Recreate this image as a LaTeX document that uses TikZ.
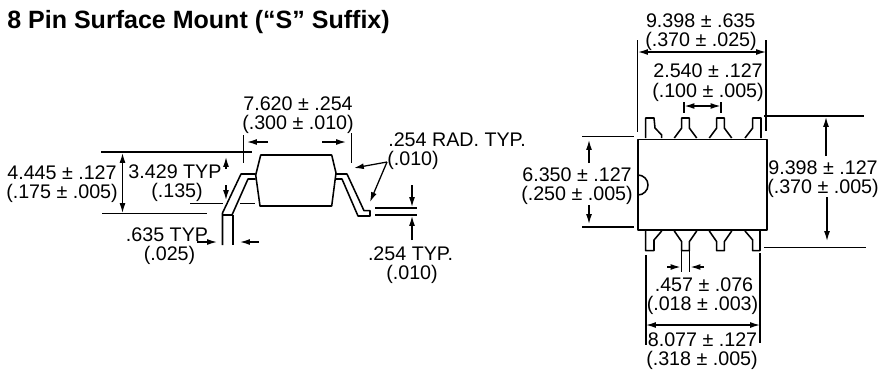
\documentclass[tikz,border=0pt]{standalone}
\usepackage{fontspec}
\setmainfont{Liberation Sans}
\usetikzlibrary{arrows.meta}
\tikzset{
  dimtext/.style={inner sep=0pt,font=\fontsize{14}{16}\selectfont},
  dimline/.style={line width=0.9pt},
  outline/.style={line width=1.1pt,line join=round},
  dimarrow/.style={line width=0.9pt,-{Latex[length=7pt,width=4.2pt]}},
  dimboth/.style={line width=0.9pt,{Latex[length=7pt,width=4.2pt]}-{Latex[length=7pt,width=4.2pt]}}
}
\begin{document}
\begin{tikzpicture}[x=0.025cm,y=-0.025cm]
  \useasboundingbox (0,0) rectangle (880,370);
  \node (title) [anchor=west,inner sep=0pt,font=\fontsize{17.8}{20}\selectfont\bfseries] at (7,22) {8 Pin Surface Mount (“S” Suffix)};
  % side view
  \draw [outline] (260.7,155) -- (331.7,155) -- (336,173) -- (331.7,206) -- (260,206) -- (255.7,175) -- cycle;
  \draw [outline] (222.5,245) -- (222.5,213) -- (241,174) -- (255.7,174);
  \draw [outline] (255.7,179) -- (248,179) -- (232,215) -- (222.5,215);
  \draw [outline] (233,215) -- (233,245);
  \draw [outline] (336,174) -- (347,174) -- (364,210.7) -- (370,210.7) -- (370,216) -- (358,216) -- (342,179) -- (336,179);
  \draw [dimline] (101,152) -- (252,152);
  \draw [dimline] (102,213.7) -- (207,213.7);
  \draw [dimline] (190,203.3) -- (223,203.3);
  \draw [dimline] (240,203.3) -- (255,203.3);
  \draw [dimline] (243.5,135) -- (243.5,163);
  \draw [dimline] (351.7,133) -- (351.7,163);
  \draw [dimline] (375,208) -- (417,208);
  \draw [dimline] (375,215) -- (417,215);
  \draw [dimboth] (122.5,153) -- (122.5,213);
  \draw [dimarrow] (226,169) -- (226,157);
  \draw [dimarrow] (226,185) -- (226,200);
  \draw [dimarrow] (268,142) -- (247,142);
  \draw [dimarrow] (322,142) -- (346,142);
  \draw [dimarrow] (197,242) -- (217,242);
  \draw [dimarrow] (259,242) -- (240,242);
  \draw [dimarrow] (412,185) -- (412,207);
  \draw [dimarrow] (412,240) -- (412,216);
  \draw [dimarrow] (387,162) -- (354,168);
  \draw [dimarrow] (387,162) -- (370,202);
  \node (overall) [dimtext] at (62,173) {4.445 ± .127};
  \node (overallin) [dimtext] at (62,193) {(.175 ± .005)};
  \node (seat) [dimtext] at (175,172) {3.429 TYP};
  \node (seatin) [dimtext] at (177,192) {(.135)};
  \node (span) [dimtext] at (298,104) {7.620 ± .254};
  \node (spanin) [dimtext] at (298,124.5) {(.300 ± .010)};
  \node (rad) [dimtext,anchor=west] at (388,140) {.254 RAD. TYP.};
  \node (radin) [dimtext] at (413,160) {(.010)};
  \node (foot) [dimtext] at (167,235) {.635 TYP};
  \node (footin) [dimtext] at (169.5,255) {(.025)};
  \node (thick) [dimtext] at (410.5,254) {.254 TYP.};
  \node (thickin) [dimtext] at (412,274) {(.010)};
  % top view
  \draw [outline] (638,139.5) -- (767,139.5) -- (767,230) -- (638,230) -- cycle;
  \draw [outline] (638,175) arc (-90:90:10);
  \draw [outline] (645.7,138) -- (645.7,118) -- (654,118) -- (655,128) -- (661.7,135) -- (661.7,138);
  \draw [outline] (745,138) -- (752.7,128) -- (752.7,118) -- (761,118) -- (761,138);
  \draw [outline] (645.7,231) -- (645.7,250.7) -- (654,250.7) -- (654,240) -- (661.7,231);
  \draw [outline] (745,231) -- (752.7,240) -- (752.7,250.7) -- (760,250.7) -- (760,231);
  \foreach \pinx in {674.3,709.3} {
    \draw [outline] (\pinx,138) -- (\pinx+7.4,128) -- (\pinx+7.4,118) -- (\pinx+15,118) -- (\pinx+15,128) -- (\pinx+22.4,138);
    \draw [outline] (\pinx,231) -- (\pinx+7.4,241.7) -- (\pinx+7.4,250.7) -- (\pinx+15,250.7) -- (\pinx+15,241.7) -- (\pinx+22.4,231);
  }
  \draw [dimline] (637.7,40) -- (637.7,132);
  \draw [dimline] (766,40) -- (766,131);
  \draw [dimboth] (638,52) -- (766,52);
  \draw [dimline] (684,102) -- (684,113);
  \draw [dimline] (721,102) -- (721,113);
  \draw [dimboth] (684.5,106) -- (720.5,106);
  \draw [dimline] (582,136.7) -- (634,136.7);
  \draw [dimline] (582,227) -- (634,227);
  \draw [dimarrow] (589,163) -- (589,140);
  \draw [dimarrow] (589,205) -- (589,224);
  \draw [dimline] (764,116) -- (864,116);
  \draw [dimline] (764,247.7) -- (866,247.7);
  \draw [dimarrow] (826,156) -- (826,117);
  \draw [dimarrow] (827,197) -- (827,241);
  \draw [dimline] (646,255) -- (646,345);
  \draw [dimline] (760,253) -- (760,343);
  \draw [dimboth] (646,325) -- (760,325);
  \draw [dimline] (681.7,250) -- (681.7,272);
  \draw [dimline] (689.3,250) -- (689.3,272);
  \draw [dimarrow] (667,267) -- (680.5,267);
  \draw [dimarrow] (704,267) -- (690.5,267);
  \node (length) [dimtext] at (700.7,21) {9.398 ± .635};
  \node (lengthin) [dimtext] at (701,41) {(.370 ± .025)};
  \node (pitch) [dimtext] at (708,71) {2.540 ± .127};
  \node (pitchin) [dimtext] at (708,92) {(.100 ± .005)};
  \node (width) [dimtext] at (577,175) {6.350 ± .127};
  \node (widthin) [dimtext] at (577,195) {(.250 ± .005)};
  \node (leads) [dimtext] at (823,168) {9.398 ± .127};
  \node (leadsin) [dimtext] at (823,188) {(.370 ± .005)};
  \node (pin) [dimtext] at (704,285) {.457 ± .076};
  \node (pinin) [dimtext] at (702.5,305) {(.018 ± .003)};
  \node (across) [dimtext] at (702.5,340) {8.077 ± .127};
  \node (acrossin) [dimtext] at (702,360) {(.318 ± .005)};
\end{tikzpicture}
\end{document}
